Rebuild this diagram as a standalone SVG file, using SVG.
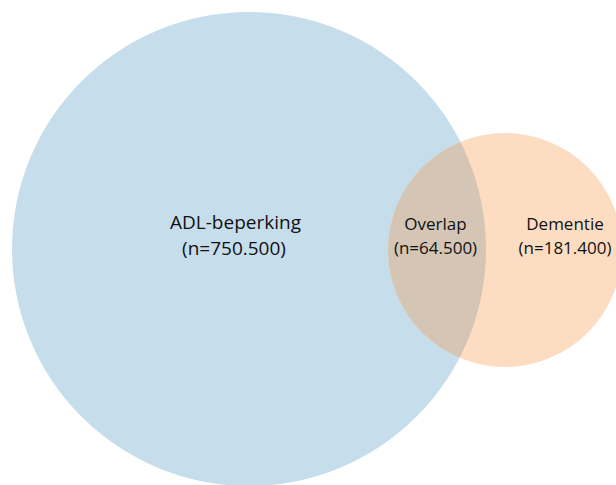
<svg xmlns="http://www.w3.org/2000/svg" width="616" height="485" viewBox="0 0 616 485">
<style>
text{font-family:"Open Sans","Liberation Sans",sans-serif;fill:#111111;text-anchor:middle}
.big{font-size:19px}
.small{font-size:17px}
</style>
<defs>
<clipPath id="bigClip"><circle cx="249" cy="249" r="237"/></clipPath>
</defs>
<rect width="616" height="485" fill="#ffffff"/>
<g id="adl">
<circle cx="249" cy="249" r="237" fill="#C6DDEB"/>
</g>
<g id="dementie">
<circle cx="505" cy="250" r="117" fill="#FDDDC2"/>
</g>
<g id="overlap">
<circle cx="505" cy="250" r="117" fill="#D5C5B5" clip-path="url(#bigClip)"/>
</g>
<g id="labels">
<text class="big" x="235.5" y="229">ADL-beperking</text>
<text class="big" x="234" y="255">(n=750.500)</text>
<text class="small" x="435.5" y="230">Overlap</text>
<text class="small" x="435.5" y="254">(n=64.500)</text>
<text class="small" x="565" y="230">Dementie</text>
<text class="small" x="565" y="254">(n=181.400)</text>
</g>
<g id="connectors"/>
</svg>
